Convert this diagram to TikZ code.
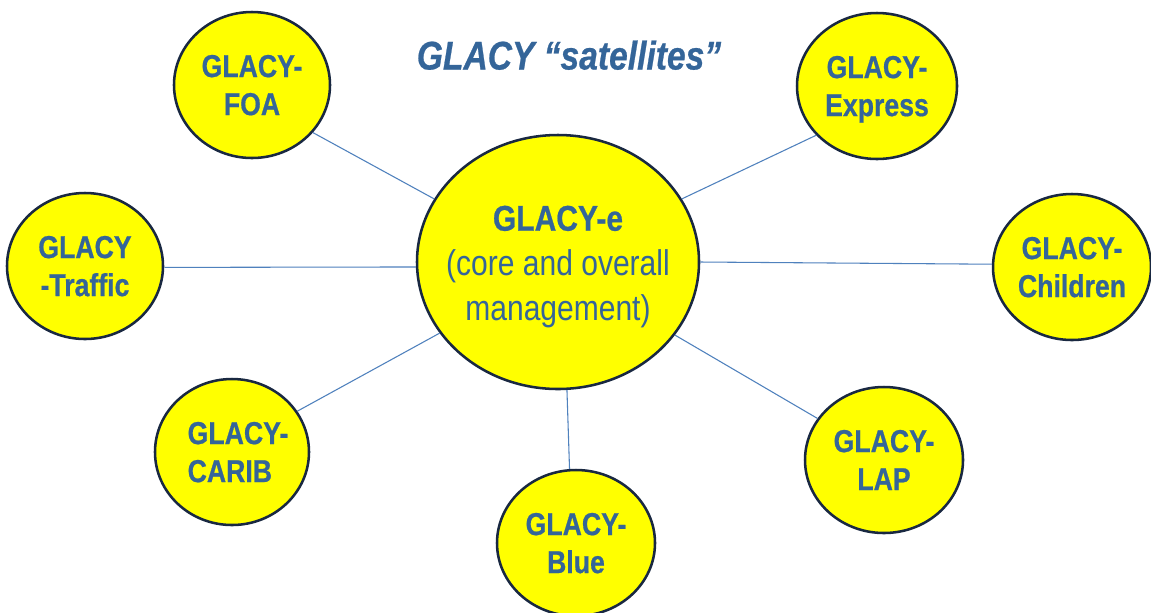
\documentclass[tikz,border=0pt]{standalone}
\usepackage{fontspec}
\setmainfont{Liberation Sans}[FakeStretch=0.84, BoldFeatures={FakeBold=0.6}, BoldItalicFeatures={FakeBold=0.6}]
\usetikzlibrary{shapes.geometric}
\definecolor{txtblue}{RGB}{52,101,153}
\definecolor{linkblue}{RGB}{79,129,189}
\definecolor{rimnavy}{RGB}{25,40,65}
\definecolor{sunyellow}{RGB}{255,255,0}
\begin{document}
\begin{tikzpicture}[x=0.75pt,y=-0.75pt,
  bubble/.style={ellipse, draw=rimnavy, line width=1.9pt, fill=sunyellow,
    inner sep=0pt, text=txtblue, align=center, text depth=0pt,
    font=\fontsize{23.8}{28.5}\selectfont\bfseries},
  corebubble/.style={ellipse, draw=rimnavy, line width=1.9pt, fill=sunyellow,
    inner sep=0pt, minimum width=282*0.75pt, minimum height=254*0.75pt},
  coretxt/.style={text=txtblue, align=center, text depth=0pt, inner sep=0pt,
    font=\fontsize{26.8}{33.6}\selectfont},
  link/.style={draw=linkblue, line width=0.8pt},
  titletxt/.style={text=txtblue, inner sep=0pt, text depth=0pt,
    font=\fontsize{30}{34}\selectfont\bfseries\itshape}]
\useasboundingbox (0,0) rectangle (1151,612);
\fill[white] (0,0) rectangle (1151,612);

\node[titletxt] (title) at (569,55) {GLACY “satellites”};

\node[corebubble] (core) at (558,262) {};
\node[coretxt] (coretext) at (558,263) {{\bfseries GLACY-e}\\(core and overall\\management)};

\node[bubble, minimum width=156*0.75pt, minimum height=146*0.75pt] (foa) at (252,85) {GLACY-\\FOA};
\node[bubble, minimum width=160*0.75pt, minimum height=146*0.75pt] (express) at (877,86) {GLACY-\\Express};
\node[bubble, minimum width=156*0.75pt, minimum height=146*0.75pt] (traffic) at (85,266) {GLACY\\-Traffic};
\node[bubble, minimum width=158*0.75pt, minimum height=146*0.75pt] (children) at (1072,267) {GLACY-\\Children};
\node[bubble, minimum width=154*0.75pt, minimum height=146*0.75pt, align=left, inner xsep=-5pt] (carib) at (232,452) {\hspace*{9pt}GLACY-\\\hspace*{9pt}CARIB};
\node[bubble, minimum width=158*0.75pt, minimum height=146*0.75pt] (blue) at (576,543) {GLACY-\\Blue};
\node[bubble, minimum width=158*0.75pt, minimum height=146*0.75pt] (lap) at (884,460) {GLACY-\\LAP};

\draw[link] (foa.-38) -- (core.153);
\draw[link] (express.219) -- (core.27);
\draw[link] (traffic.-1) -- (core.182);
\draw[link] (children.178) -- (core.0);
\draw[link] (carib.32) -- (core.211);
\draw[link] (blue.95) -- (core.-86);
\draw[link] (lap.148) -- (core.-32);
\end{tikzpicture}
\end{document}
